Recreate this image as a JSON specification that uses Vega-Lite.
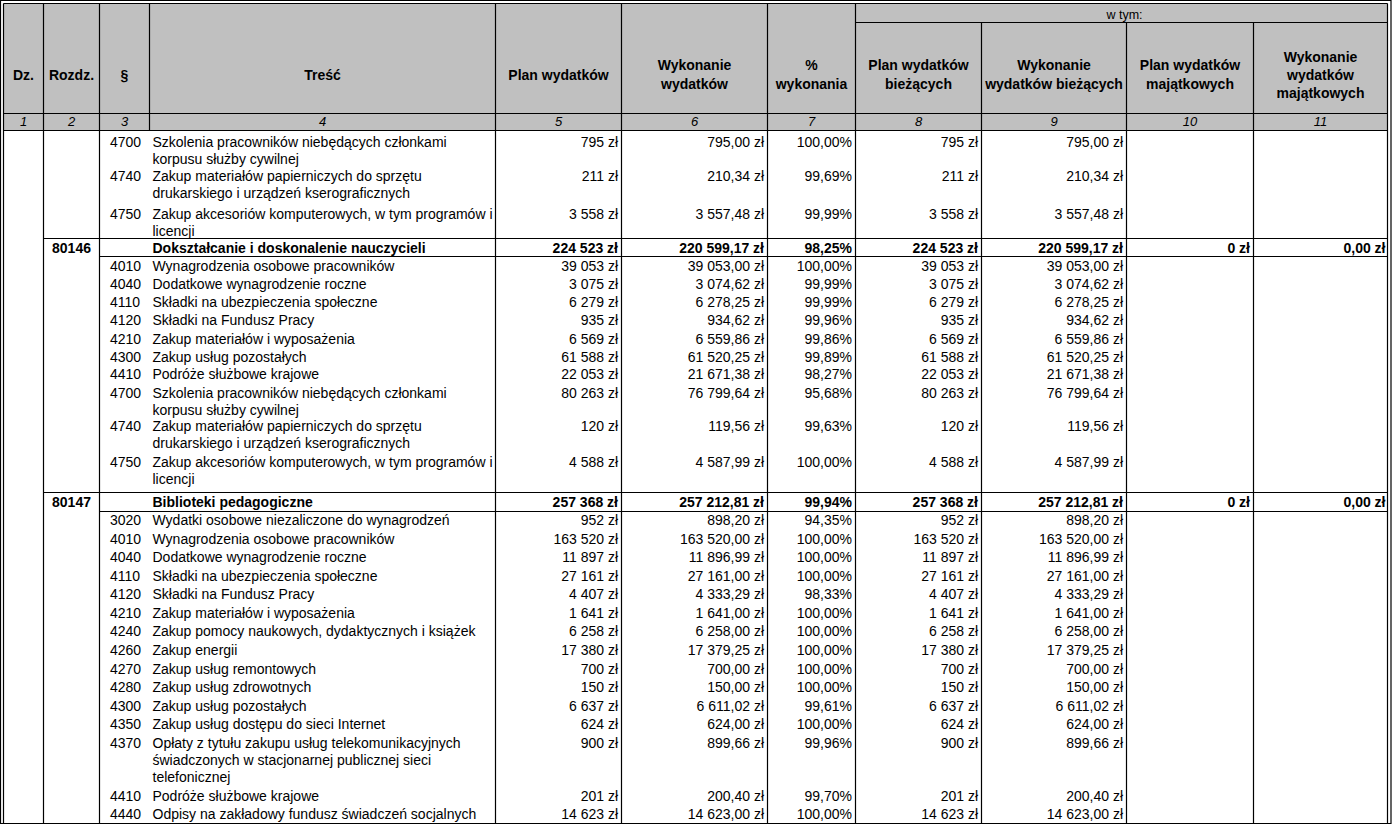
{
  "$schema": "https://vega.github.io/schema/vega-lite/v6.json",
  "width": 1393,
  "height": 826,
  "autosize": {"type": "none"},
  "padding": 0,
  "background": "white",
  "config": {
    "view": {"stroke": null},
    "axis": {"disable": true},
    "text": {"font": "Liberation Sans", "fontSize": 14, "color": "black"}
  },
  "datasets": {
    "frame": [{"part": "table", "label": "w tym:"}],
    "header": [
      {"num": 1, "title": "Dz."},
      {"num": 2, "title": "Rozdz."},
      {"num": 3, "title": "§"},
      {"num": 4, "title": "Treść"},
      {"num": 5, "title": "Plan wydatków"},
      {"num": 6, "title": "Wykonanie\nwydatków"},
      {"num": 7, "title": "%\nwykonania"},
      {"num": 8, "title": "Plan wydatków\nbieżących"},
      {"num": 9, "title": "Wykonanie\nwydatków bieżących"},
      {"num": 10, "title": "Plan wydatków\nmajątkowych"},
      {"num": 11, "title": "Wykonanie\nwydatków\nmajątkowych"}
    ],
    "hlines": [
      {"edge": 0, "from": 0.5, "to": 11.5},
      {"edge": 1, "from": 7.5, "to": 11.5},
      {"edge": 2, "from": 0.5, "to": 11.5},
      {"edge": 3, "from": 0.5, "to": 11.5},
      {"edge": 4, "from": 1.5, "to": 11.5},
      {"edge": 5, "from": 2.5, "to": 11.5},
      {"edge": 6, "from": 1.5, "to": 11.5},
      {"edge": 7, "from": 2.5, "to": 11.5}
    ],
    "vlines": [
      {"at": 0.5, "from": 0, "to": 8},
      {"at": 1.5, "from": 0, "to": 8},
      {"at": 2.5, "from": 0, "to": 8},
      {"at": 3.5, "from": 0, "to": 3},
      {"at": 4.5, "from": 0, "to": 8},
      {"at": 5.5, "from": 0, "to": 8},
      {"at": 6.5, "from": 0, "to": 8},
      {"at": 7.5, "from": 0, "to": 8},
      {"at": 8.5, "from": 1, "to": 8},
      {"at": 9.5, "from": 1, "to": 8},
      {"at": 10.5, "from": 1, "to": 8},
      {"at": 11.5, "from": 0, "to": 8}
    ],
    "sections": [
      {"row": 4, "rozdz": "80146", "tresc": "Dokształcanie i doskonalenie nauczycieli", "plan": "224 523 zł", "wyk": "220 599,17 zł", "pct": "98,25%", "planB": "224 523 zł", "wykB": "220 599,17 zł", "planM": "0 zł", "wykM": "0,00 zł"},
      {"row": 15, "rozdz": "80147", "tresc": "Biblioteki pedagogiczne", "plan": "257 368 zł", "wyk": "257 212,81 zł", "pct": "99,94%", "planB": "257 368 zł", "wykB": "257 212,81 zł", "planM": "0 zł", "wykM": "0,00 zł"}
    ],
    "items": [
      {"row": 1, "par": "4700", "tresc": "Szkolenia pracowników niebędących członkami\nkorpusu służby cywilnej", "plan": "795 zł", "wyk": "795,00 zł", "pct": "100,00%", "planB": "795 zł", "wykB": "795,00 zł"},
      {"row": 2, "par": "4740", "tresc": "Zakup materiałów papierniczych do sprzętu\ndrukarskiego i urządzeń kserograficznych", "plan": "211 zł", "wyk": "210,34 zł", "pct": "99,69%", "planB": "211 zł", "wykB": "210,34 zł"},
      {"row": 3, "par": "4750", "tresc": "Zakup akcesoriów komputerowych, w tym programów i\nlicencji", "plan": "3 558 zł", "wyk": "3 557,48 zł", "pct": "99,99%", "planB": "3 558 zł", "wykB": "3 557,48 zł"},
      {"row": 5, "par": "4010", "tresc": "Wynagrodzenia osobowe pracowników", "plan": "39 053 zł", "wyk": "39 053,00 zł", "pct": "100,00%", "planB": "39 053 zł", "wykB": "39 053,00 zł"},
      {"row": 6, "par": "4040", "tresc": "Dodatkowe wynagrodzenie roczne", "plan": "3 075 zł", "wyk": "3 074,62 zł", "pct": "99,99%", "planB": "3 075 zł", "wykB": "3 074,62 zł"},
      {"row": 7, "par": "4110", "tresc": "Składki na ubezpieczenia społeczne", "plan": "6 279 zł", "wyk": "6 278,25 zł", "pct": "99,99%", "planB": "6 279 zł", "wykB": "6 278,25 zł"},
      {"row": 8, "par": "4120", "tresc": "Składki na Fundusz Pracy", "plan": "935 zł", "wyk": "934,62 zł", "pct": "99,96%", "planB": "935 zł", "wykB": "934,62 zł"},
      {"row": 9, "par": "4210", "tresc": "Zakup materiałów i wyposażenia", "plan": "6 569 zł", "wyk": "6 559,86 zł", "pct": "99,86%", "planB": "6 569 zł", "wykB": "6 559,86 zł"},
      {"row": 10, "par": "4300", "tresc": "Zakup usług pozostałych", "plan": "61 588 zł", "wyk": "61 520,25 zł", "pct": "99,89%", "planB": "61 588 zł", "wykB": "61 520,25 zł"},
      {"row": 11, "par": "4410", "tresc": "Podróże służbowe krajowe", "plan": "22 053 zł", "wyk": "21 671,38 zł", "pct": "98,27%", "planB": "22 053 zł", "wykB": "21 671,38 zł"},
      {"row": 12, "par": "4700", "tresc": "Szkolenia pracowników niebędących członkami\nkorpusu służby cywilnej", "plan": "80 263 zł", "wyk": "76 799,64 zł", "pct": "95,68%", "planB": "80 263 zł", "wykB": "76 799,64 zł"},
      {"row": 13, "par": "4740", "tresc": "Zakup materiałów papierniczych do sprzętu\ndrukarskiego i urządzeń kserograficznych", "plan": "120 zł", "wyk": "119,56 zł", "pct": "99,63%", "planB": "120 zł", "wykB": "119,56 zł"},
      {"row": 14, "par": "4750", "tresc": "Zakup akcesoriów komputerowych, w tym programów i\nlicencji", "plan": "4 588 zł", "wyk": "4 587,99 zł", "pct": "100,00%", "planB": "4 588 zł", "wykB": "4 587,99 zł"},
      {"row": 16, "par": "3020", "tresc": "Wydatki osobowe niezaliczone do wynagrodzeń", "plan": "952 zł", "wyk": "898,20 zł", "pct": "94,35%", "planB": "952 zł", "wykB": "898,20 zł"},
      {"row": 17, "par": "4010", "tresc": "Wynagrodzenia osobowe pracowników", "plan": "163 520 zł", "wyk": "163 520,00 zł", "pct": "100,00%", "planB": "163 520 zł", "wykB": "163 520,00 zł"},
      {"row": 18, "par": "4040", "tresc": "Dodatkowe wynagrodzenie roczne", "plan": "11 897 zł", "wyk": "11 896,99 zł", "pct": "100,00%", "planB": "11 897 zł", "wykB": "11 896,99 zł"},
      {"row": 19, "par": "4110", "tresc": "Składki na ubezpieczenia społeczne", "plan": "27 161 zł", "wyk": "27 161,00 zł", "pct": "100,00%", "planB": "27 161 zł", "wykB": "27 161,00 zł"},
      {"row": 20, "par": "4120", "tresc": "Składki na Fundusz Pracy", "plan": "4 407 zł", "wyk": "4 333,29 zł", "pct": "98,33%", "planB": "4 407 zł", "wykB": "4 333,29 zł"},
      {"row": 21, "par": "4210", "tresc": "Zakup materiałów i wyposażenia", "plan": "1 641 zł", "wyk": "1 641,00 zł", "pct": "100,00%", "planB": "1 641 zł", "wykB": "1 641,00 zł"},
      {"row": 22, "par": "4240", "tresc": "Zakup pomocy naukowych, dydaktycznych i książek", "plan": "6 258 zł", "wyk": "6 258,00 zł", "pct": "100,00%", "planB": "6 258 zł", "wykB": "6 258,00 zł"},
      {"row": 23, "par": "4260", "tresc": "Zakup energii", "plan": "17 380 zł", "wyk": "17 379,25 zł", "pct": "100,00%", "planB": "17 380 zł", "wykB": "17 379,25 zł"},
      {"row": 24, "par": "4270", "tresc": "Zakup usług remontowych", "plan": "700 zł", "wyk": "700,00 zł", "pct": "100,00%", "planB": "700 zł", "wykB": "700,00 zł"},
      {"row": 25, "par": "4280", "tresc": "Zakup usług zdrowotnych", "plan": "150 zł", "wyk": "150,00 zł", "pct": "100,00%", "planB": "150 zł", "wykB": "150,00 zł"},
      {"row": 26, "par": "4300", "tresc": "Zakup usług pozostałych", "plan": "6 637 zł", "wyk": "6 611,02 zł", "pct": "99,61%", "planB": "6 637 zł", "wykB": "6 611,02 zł"},
      {"row": 27, "par": "4350", "tresc": "Zakup usług dostępu do sieci Internet", "plan": "624 zł", "wyk": "624,00 zł", "pct": "100,00%", "planB": "624 zł", "wykB": "624,00 zł"},
      {"row": 28, "par": "4370", "tresc": "Opłaty z tytułu zakupu usług telekomunikacyjnych\nświadczonych w stacjonarnej publicznej sieci\ntelefonicznej", "plan": "900 zł", "wyk": "899,66 zł", "pct": "99,96%", "planB": "900 zł", "wykB": "899,66 zł"},
      {"row": 29, "par": "4410", "tresc": "Podróże służbowe krajowe", "plan": "201 zł", "wyk": "200,40 zł", "pct": "99,70%", "planB": "201 zł", "wykB": "200,40 zł"},
      {"row": 30, "par": "4440", "tresc": "Odpisy na zakładowy fundusz świadczeń socjalnych", "plan": "14 623 zł", "wyk": "14 623,00 zł", "pct": "100,00%", "planB": "14 623 zł", "wykB": "14 623,00 zł"}
    ]
  },
  "resolve": {"scale": {"y": "independent"}},
  "layer": [
    {
      "layer": [
        {
          "data": {"name": "frame"},
          "mark": {"type": "rect", "color": "#c0c0c0"},
          "encoding": {
            "x": {"datum": 0.5, "type": "quantitative", "scale": {"domain": [0.5,1.5,2.5,3.5,4.5,5.5,6.5,7.5,8.5,9.5,10.5,11.5], "range": [3.5,43.5,99.5,149.5,495.5,621.5,767.5,855.5,981.5,1126.5,1253.5,1387.5], "zero": false, "nice": false}},
            "x2": {"datum": 11.5},
            "y": {"datum": 0, "type": "quantitative", "scale": {"domain": [0,1,2,3,4,5,6,7,8], "range": [3.5,22.5,113.5,130.5,238.5,256.5,492.5,511.5,823.5], "zero": false, "nice": false}},
            "y2": {"datum": 3}
          }
        },
        {
          "data": {"name": "hlines"},
          "mark": {"type": "rule", "color": "black", "strokeWidth": 1.2},
          "encoding": {
            "x": {"field": "from", "type": "quantitative", "scale": {"domain": [0.5,1.5,2.5,3.5,4.5,5.5,6.5,7.5,8.5,9.5,10.5,11.5], "range": [3.5,43.5,99.5,149.5,495.5,621.5,767.5,855.5,981.5,1126.5,1253.5,1387.5], "zero": false, "nice": false}},
            "x2": {"field": "to"},
            "y": {"field": "edge", "type": "quantitative", "scale": {"domain": [0,1,2,3,4,5,6,7,8], "range": [3.5,22.5,113.5,130.5,238.5,256.5,492.5,511.5,823.5], "zero": false, "nice": false}}
          }
        },
        {
          "data": {"name": "vlines"},
          "mark": {"type": "rule", "color": "black", "strokeWidth": 1.2},
          "encoding": {
            "x": {"field": "at", "type": "quantitative", "scale": {"domain": [0.5,1.5,2.5,3.5,4.5,5.5,6.5,7.5,8.5,9.5,10.5,11.5], "range": [3.5,43.5,99.5,149.5,495.5,621.5,767.5,855.5,981.5,1126.5,1253.5,1387.5], "zero": false, "nice": false}},
            "y": {"field": "from", "type": "quantitative", "scale": {"domain": [0,1,2,3,4,5,6,7,8], "range": [3.5,22.5,113.5,130.5,238.5,256.5,492.5,511.5,823.5], "zero": false, "nice": false}},
            "y2": {"field": "to"}
          }
        },
        {
          "data": {"name": "frame"},
          "mark": {"type": "rect", "filled": false, "stroke": "black", "strokeWidth": 1.2, "xOffset": -3, "x2Offset": 3.5, "yOffset": -3, "y2Offset": 0},
          "encoding": {
            "x": {"datum": 0.5, "type": "quantitative", "scale": {"domain": [0.5,1.5,2.5,3.5,4.5,5.5,6.5,7.5,8.5,9.5,10.5,11.5], "range": [3.5,43.5,99.5,149.5,495.5,621.5,767.5,855.5,981.5,1126.5,1253.5,1387.5], "zero": false, "nice": false}},
            "x2": {"datum": 11.5},
            "y": {"datum": 0, "type": "quantitative", "scale": {"domain": [0,1,2,3,4,5,6,7,8], "range": [3.5,22.5,113.5,130.5,238.5,256.5,492.5,511.5,823.5], "zero": false, "nice": false}},
            "y2": {"datum": 8}
          }
        }
      ]
    },
    {
      "layer": [
        {
          "data": {"name": "frame"},
          "mark": {"type": "text", "fontSize": 12.5, "align": "center", "baseline": "middle", "dx": -2},
          "encoding": {
            "x": {"datum": 9.5, "type": "quantitative", "scale": {"domain": [0.5,1.5,2.5,3.5,4.5,5.5,6.5,7.5,8.5,9.5,10.5,11.5], "range": [3.5,43.5,99.5,149.5,495.5,621.5,767.5,855.5,981.5,1126.5,1253.5,1387.5], "zero": false, "nice": false}},
            "y": {"datum": -2, "type": "quantitative", "scale": {"domain": [-2,-1,0,1,2,3,4,5,6,7,8,9,10,11,12,13,14,15,16,17,18,19,20,21,22,23,24,25,26,27,28,29,30], "range": [15,75.5,121.5,141.7,176,214,248.3,265.7,284,302.3,320,339.3,356.7,374.3,393.3,426,462.3,502,520,539,557,576,594.3,613.3,631.3,650.3,669,687,706,724,743.3,796,814], "zero": false, "nice": false}},
            "text": {"field": "label"}
          }
        },
        {
          "data": {"name": "header"},
          "transform": [{"filter": "indexof(datum.title, '\\n') < 0"}],
          "mark": {"type": "text", "fontWeight": "bold", "align": "center", "baseline": "middle"},
          "encoding": {
            "x": {"field": "num", "type": "quantitative", "scale": {"domain": [0.5,1.5,2.5,3.5,4.5,5.5,6.5,7.5,8.5,9.5,10.5,11.5], "range": [3.5,43.5,99.5,149.5,495.5,621.5,767.5,855.5,981.5,1126.5,1253.5,1387.5], "zero": false, "nice": false}},
            "y": {"datum": -1, "type": "quantitative", "scale": {"domain": [-2,-1,0,1,2,3,4,5,6,7,8,9,10,11,12,13,14,15,16,17,18,19,20,21,22,23,24,25,26,27,28,29,30], "range": [15,75.5,121.5,141.7,176,214,248.3,265.7,284,302.3,320,339.3,356.7,374.3,393.3,426,462.3,502,520,539,557,576,594.3,613.3,631.3,650.3,669,687,706,724,743.3,796,814], "zero": false, "nice": false}},
            "text": {"field": "title"}
          }
        },
        {
          "data": {"name": "header"},
          "transform": [{"filter": "length(split(datum.title, '\\n')) == 2"}],
          "mark": {"type": "text", "fontWeight": "bold", "align": "center", "baseline": "middle", "lineBreak": "\n", "lineHeight": 18.3, "dy": -9.15},
          "encoding": {
            "x": {"field": "num", "type": "quantitative", "scale": {"domain": [0.5,1.5,2.5,3.5,4.5,5.5,6.5,7.5,8.5,9.5,10.5,11.5], "range": [3.5,43.5,99.5,149.5,495.5,621.5,767.5,855.5,981.5,1126.5,1253.5,1387.5], "zero": false, "nice": false}},
            "y": {"datum": -1, "type": "quantitative", "scale": {"domain": [-2,-1,0,1,2,3,4,5,6,7,8,9,10,11,12,13,14,15,16,17,18,19,20,21,22,23,24,25,26,27,28,29,30], "range": [15,75.5,121.5,141.7,176,214,248.3,265.7,284,302.3,320,339.3,356.7,374.3,393.3,426,462.3,502,520,539,557,576,594.3,613.3,631.3,650.3,669,687,706,724,743.3,796,814], "zero": false, "nice": false}},
            "text": {"field": "title"}
          }
        },
        {
          "data": {"name": "header"},
          "transform": [{"filter": "length(split(datum.title, '\\n')) == 3"}],
          "mark": {"type": "text", "fontWeight": "bold", "align": "center", "baseline": "middle", "lineBreak": "\n", "lineHeight": 18, "dy": -18},
          "encoding": {
            "x": {"field": "num", "type": "quantitative", "scale": {"domain": [0.5,1.5,2.5,3.5,4.5,5.5,6.5,7.5,8.5,9.5,10.5,11.5], "range": [3.5,43.5,99.5,149.5,495.5,621.5,767.5,855.5,981.5,1126.5,1253.5,1387.5], "zero": false, "nice": false}},
            "y": {"datum": -1, "type": "quantitative", "scale": {"domain": [-2,-1,0,1,2,3,4,5,6,7,8,9,10,11,12,13,14,15,16,17,18,19,20,21,22,23,24,25,26,27,28,29,30], "range": [15,75.5,121.5,141.7,176,214,248.3,265.7,284,302.3,320,339.3,356.7,374.3,393.3,426,462.3,502,520,539,557,576,594.3,613.3,631.3,650.3,669,687,706,724,743.3,796,814], "zero": false, "nice": false}},
            "text": {"field": "title"}
          }
        },
        {
          "data": {"name": "header"},
          "mark": {"type": "text", "fontStyle": "italic", "fontSize": 13, "align": "center", "baseline": "middle"},
          "encoding": {
            "x": {"field": "num", "type": "quantitative", "scale": {"domain": [0.5,1.5,2.5,3.5,4.5,5.5,6.5,7.5,8.5,9.5,10.5,11.5], "range": [3.5,43.5,99.5,149.5,495.5,621.5,767.5,855.5,981.5,1126.5,1253.5,1387.5], "zero": false, "nice": false}},
            "y": {"datum": 0, "type": "quantitative", "scale": {"domain": [-2,-1,0,1,2,3,4,5,6,7,8,9,10,11,12,13,14,15,16,17,18,19,20,21,22,23,24,25,26,27,28,29,30], "range": [15,75.5,121.5,141.7,176,214,248.3,265.7,284,302.3,320,339.3,356.7,374.3,393.3,426,462.3,502,520,539,557,576,594.3,613.3,631.3,650.3,669,687,706,724,743.3,796,814], "zero": false, "nice": false}},
            "text": {"field": "num", "type": "nominal"}
          }
        },
        {
          "data": {"name": "sections"},
          "mark": {"type": "text", "fontWeight": "bold", "align": "center", "baseline": "alphabetic", "dy": 5},
          "encoding": {
            "x": {"datum": 2, "type": "quantitative", "scale": {"domain": [0.5,1.5,2.5,3.5,4.5,5.5,6.5,7.5,8.5,9.5,10.5,11.5], "range": [3.5,43.5,99.5,149.5,495.5,621.5,767.5,855.5,981.5,1126.5,1253.5,1387.5], "zero": false, "nice": false}},
            "y": {"field": "row", "type": "quantitative", "scale": {"domain": [-2,-1,0,1,2,3,4,5,6,7,8,9,10,11,12,13,14,15,16,17,18,19,20,21,22,23,24,25,26,27,28,29,30], "range": [15,75.5,121.5,141.7,176,214,248.3,265.7,284,302.3,320,339.3,356.7,374.3,393.3,426,462.3,502,520,539,557,576,594.3,613.3,631.3,650.3,669,687,706,724,743.3,796,814], "zero": false, "nice": false}},
            "text": {"field": "rozdz"}
          }
        },
        {
          "data": {"name": "sections"},
          "mark": {"type": "text", "fontWeight": "bold", "align": "left", "baseline": "alphabetic", "dx": 3, "dy": 5},
          "encoding": {
            "x": {"datum": 3.5, "type": "quantitative", "scale": {"domain": [0.5,1.5,2.5,3.5,4.5,5.5,6.5,7.5,8.5,9.5,10.5,11.5], "range": [3.5,43.5,99.5,149.5,495.5,621.5,767.5,855.5,981.5,1126.5,1253.5,1387.5], "zero": false, "nice": false}},
            "y": {"field": "row", "type": "quantitative", "scale": {"domain": [-2,-1,0,1,2,3,4,5,6,7,8,9,10,11,12,13,14,15,16,17,18,19,20,21,22,23,24,25,26,27,28,29,30], "range": [15,75.5,121.5,141.7,176,214,248.3,265.7,284,302.3,320,339.3,356.7,374.3,393.3,426,462.3,502,520,539,557,576,594.3,613.3,631.3,650.3,669,687,706,724,743.3,796,814], "zero": false, "nice": false}},
            "text": {"field": "tresc"}
          }
        },
        {
          "data": {"name": "sections"},
          "mark": {"type": "text", "fontWeight": "bold", "align": "right", "baseline": "alphabetic", "dx": -3.5, "dy": 5},
          "encoding": {
            "x": {"datum": 5.5, "type": "quantitative", "scale": {"domain": [0.5,1.5,2.5,3.5,4.5,5.5,6.5,7.5,8.5,9.5,10.5,11.5], "range": [3.5,43.5,99.5,149.5,495.5,621.5,767.5,855.5,981.5,1126.5,1253.5,1387.5], "zero": false, "nice": false}},
            "y": {"field": "row", "type": "quantitative", "scale": {"domain": [-2,-1,0,1,2,3,4,5,6,7,8,9,10,11,12,13,14,15,16,17,18,19,20,21,22,23,24,25,26,27,28,29,30], "range": [15,75.5,121.5,141.7,176,214,248.3,265.7,284,302.3,320,339.3,356.7,374.3,393.3,426,462.3,502,520,539,557,576,594.3,613.3,631.3,650.3,669,687,706,724,743.3,796,814], "zero": false, "nice": false}},
            "text": {"field": "plan"}
          }
        },
        {
          "data": {"name": "sections"},
          "mark": {"type": "text", "fontWeight": "bold", "align": "right", "baseline": "alphabetic", "dx": -3.5, "dy": 5},
          "encoding": {
            "x": {"datum": 6.5, "type": "quantitative", "scale": {"domain": [0.5,1.5,2.5,3.5,4.5,5.5,6.5,7.5,8.5,9.5,10.5,11.5], "range": [3.5,43.5,99.5,149.5,495.5,621.5,767.5,855.5,981.5,1126.5,1253.5,1387.5], "zero": false, "nice": false}},
            "y": {"field": "row", "type": "quantitative", "scale": {"domain": [-2,-1,0,1,2,3,4,5,6,7,8,9,10,11,12,13,14,15,16,17,18,19,20,21,22,23,24,25,26,27,28,29,30], "range": [15,75.5,121.5,141.7,176,214,248.3,265.7,284,302.3,320,339.3,356.7,374.3,393.3,426,462.3,502,520,539,557,576,594.3,613.3,631.3,650.3,669,687,706,724,743.3,796,814], "zero": false, "nice": false}},
            "text": {"field": "wyk"}
          }
        },
        {
          "data": {"name": "sections"},
          "mark": {"type": "text", "fontWeight": "bold", "align": "right", "baseline": "alphabetic", "dx": -3.5, "dy": 5},
          "encoding": {
            "x": {"datum": 7.5, "type": "quantitative", "scale": {"domain": [0.5,1.5,2.5,3.5,4.5,5.5,6.5,7.5,8.5,9.5,10.5,11.5], "range": [3.5,43.5,99.5,149.5,495.5,621.5,767.5,855.5,981.5,1126.5,1253.5,1387.5], "zero": false, "nice": false}},
            "y": {"field": "row", "type": "quantitative", "scale": {"domain": [-2,-1,0,1,2,3,4,5,6,7,8,9,10,11,12,13,14,15,16,17,18,19,20,21,22,23,24,25,26,27,28,29,30], "range": [15,75.5,121.5,141.7,176,214,248.3,265.7,284,302.3,320,339.3,356.7,374.3,393.3,426,462.3,502,520,539,557,576,594.3,613.3,631.3,650.3,669,687,706,724,743.3,796,814], "zero": false, "nice": false}},
            "text": {"field": "pct"}
          }
        },
        {
          "data": {"name": "sections"},
          "mark": {"type": "text", "fontWeight": "bold", "align": "right", "baseline": "alphabetic", "dx": -3.5, "dy": 5},
          "encoding": {
            "x": {"datum": 8.5, "type": "quantitative", "scale": {"domain": [0.5,1.5,2.5,3.5,4.5,5.5,6.5,7.5,8.5,9.5,10.5,11.5], "range": [3.5,43.5,99.5,149.5,495.5,621.5,767.5,855.5,981.5,1126.5,1253.5,1387.5], "zero": false, "nice": false}},
            "y": {"field": "row", "type": "quantitative", "scale": {"domain": [-2,-1,0,1,2,3,4,5,6,7,8,9,10,11,12,13,14,15,16,17,18,19,20,21,22,23,24,25,26,27,28,29,30], "range": [15,75.5,121.5,141.7,176,214,248.3,265.7,284,302.3,320,339.3,356.7,374.3,393.3,426,462.3,502,520,539,557,576,594.3,613.3,631.3,650.3,669,687,706,724,743.3,796,814], "zero": false, "nice": false}},
            "text": {"field": "planB"}
          }
        },
        {
          "data": {"name": "sections"},
          "mark": {"type": "text", "fontWeight": "bold", "align": "right", "baseline": "alphabetic", "dx": -3.5, "dy": 5},
          "encoding": {
            "x": {"datum": 9.5, "type": "quantitative", "scale": {"domain": [0.5,1.5,2.5,3.5,4.5,5.5,6.5,7.5,8.5,9.5,10.5,11.5], "range": [3.5,43.5,99.5,149.5,495.5,621.5,767.5,855.5,981.5,1126.5,1253.5,1387.5], "zero": false, "nice": false}},
            "y": {"field": "row", "type": "quantitative", "scale": {"domain": [-2,-1,0,1,2,3,4,5,6,7,8,9,10,11,12,13,14,15,16,17,18,19,20,21,22,23,24,25,26,27,28,29,30], "range": [15,75.5,121.5,141.7,176,214,248.3,265.7,284,302.3,320,339.3,356.7,374.3,393.3,426,462.3,502,520,539,557,576,594.3,613.3,631.3,650.3,669,687,706,724,743.3,796,814], "zero": false, "nice": false}},
            "text": {"field": "wykB"}
          }
        },
        {
          "data": {"name": "sections"},
          "mark": {"type": "text", "fontWeight": "bold", "align": "right", "baseline": "alphabetic", "dx": -3.5, "dy": 5},
          "encoding": {
            "x": {"datum": 10.5, "type": "quantitative", "scale": {"domain": [0.5,1.5,2.5,3.5,4.5,5.5,6.5,7.5,8.5,9.5,10.5,11.5], "range": [3.5,43.5,99.5,149.5,495.5,621.5,767.5,855.5,981.5,1126.5,1253.5,1387.5], "zero": false, "nice": false}},
            "y": {"field": "row", "type": "quantitative", "scale": {"domain": [-2,-1,0,1,2,3,4,5,6,7,8,9,10,11,12,13,14,15,16,17,18,19,20,21,22,23,24,25,26,27,28,29,30], "range": [15,75.5,121.5,141.7,176,214,248.3,265.7,284,302.3,320,339.3,356.7,374.3,393.3,426,462.3,502,520,539,557,576,594.3,613.3,631.3,650.3,669,687,706,724,743.3,796,814], "zero": false, "nice": false}},
            "text": {"field": "planM"}
          }
        },
        {
          "data": {"name": "sections"},
          "mark": {"type": "text", "fontWeight": "bold", "align": "right", "baseline": "alphabetic", "dx": -2, "dy": 5},
          "encoding": {
            "x": {"datum": 11.5, "type": "quantitative", "scale": {"domain": [0.5,1.5,2.5,3.5,4.5,5.5,6.5,7.5,8.5,9.5,10.5,11.5], "range": [3.5,43.5,99.5,149.5,495.5,621.5,767.5,855.5,981.5,1126.5,1253.5,1387.5], "zero": false, "nice": false}},
            "y": {"field": "row", "type": "quantitative", "scale": {"domain": [-2,-1,0,1,2,3,4,5,6,7,8,9,10,11,12,13,14,15,16,17,18,19,20,21,22,23,24,25,26,27,28,29,30], "range": [15,75.5,121.5,141.7,176,214,248.3,265.7,284,302.3,320,339.3,356.7,374.3,393.3,426,462.3,502,520,539,557,576,594.3,613.3,631.3,650.3,669,687,706,724,743.3,796,814], "zero": false, "nice": false}},
            "text": {"field": "wykM"}
          }
        },
        {
          "data": {"name": "items"},
          "mark": {"type": "text", "align": "left", "baseline": "alphabetic", "dx": 10.5, "dy": 5},
          "encoding": {
            "x": {"datum": 2.5, "type": "quantitative", "scale": {"domain": [0.5,1.5,2.5,3.5,4.5,5.5,6.5,7.5,8.5,9.5,10.5,11.5], "range": [3.5,43.5,99.5,149.5,495.5,621.5,767.5,855.5,981.5,1126.5,1253.5,1387.5], "zero": false, "nice": false}},
            "y": {"field": "row", "type": "quantitative", "scale": {"domain": [-2,-1,0,1,2,3,4,5,6,7,8,9,10,11,12,13,14,15,16,17,18,19,20,21,22,23,24,25,26,27,28,29,30], "range": [15,75.5,121.5,141.7,176,214,248.3,265.7,284,302.3,320,339.3,356.7,374.3,393.3,426,462.3,502,520,539,557,576,594.3,613.3,631.3,650.3,669,687,706,724,743.3,796,814], "zero": false, "nice": false}},
            "text": {"field": "par"}
          }
        },
        {
          "data": {"name": "items"},
          "mark": {"type": "text", "align": "left", "baseline": "alphabetic", "dx": 3, "dy": 5, "lineBreak": "\n", "lineHeight": 17},
          "encoding": {
            "x": {"datum": 3.5, "type": "quantitative", "scale": {"domain": [0.5,1.5,2.5,3.5,4.5,5.5,6.5,7.5,8.5,9.5,10.5,11.5], "range": [3.5,43.5,99.5,149.5,495.5,621.5,767.5,855.5,981.5,1126.5,1253.5,1387.5], "zero": false, "nice": false}},
            "y": {"field": "row", "type": "quantitative", "scale": {"domain": [-2,-1,0,1,2,3,4,5,6,7,8,9,10,11,12,13,14,15,16,17,18,19,20,21,22,23,24,25,26,27,28,29,30], "range": [15,75.5,121.5,141.7,176,214,248.3,265.7,284,302.3,320,339.3,356.7,374.3,393.3,426,462.3,502,520,539,557,576,594.3,613.3,631.3,650.3,669,687,706,724,743.3,796,814], "zero": false, "nice": false}},
            "text": {"field": "tresc"}
          }
        },
        {
          "data": {"name": "items"},
          "mark": {"type": "text", "align": "right", "baseline": "alphabetic", "dx": -3.5, "dy": 5},
          "encoding": {
            "x": {"datum": 5.5, "type": "quantitative", "scale": {"domain": [0.5,1.5,2.5,3.5,4.5,5.5,6.5,7.5,8.5,9.5,10.5,11.5], "range": [3.5,43.5,99.5,149.5,495.5,621.5,767.5,855.5,981.5,1126.5,1253.5,1387.5], "zero": false, "nice": false}},
            "y": {"field": "row", "type": "quantitative", "scale": {"domain": [-2,-1,0,1,2,3,4,5,6,7,8,9,10,11,12,13,14,15,16,17,18,19,20,21,22,23,24,25,26,27,28,29,30], "range": [15,75.5,121.5,141.7,176,214,248.3,265.7,284,302.3,320,339.3,356.7,374.3,393.3,426,462.3,502,520,539,557,576,594.3,613.3,631.3,650.3,669,687,706,724,743.3,796,814], "zero": false, "nice": false}},
            "text": {"field": "plan"}
          }
        },
        {
          "data": {"name": "items"},
          "mark": {"type": "text", "align": "right", "baseline": "alphabetic", "dx": -3.5, "dy": 5},
          "encoding": {
            "x": {"datum": 6.5, "type": "quantitative", "scale": {"domain": [0.5,1.5,2.5,3.5,4.5,5.5,6.5,7.5,8.5,9.5,10.5,11.5], "range": [3.5,43.5,99.5,149.5,495.5,621.5,767.5,855.5,981.5,1126.5,1253.5,1387.5], "zero": false, "nice": false}},
            "y": {"field": "row", "type": "quantitative", "scale": {"domain": [-2,-1,0,1,2,3,4,5,6,7,8,9,10,11,12,13,14,15,16,17,18,19,20,21,22,23,24,25,26,27,28,29,30], "range": [15,75.5,121.5,141.7,176,214,248.3,265.7,284,302.3,320,339.3,356.7,374.3,393.3,426,462.3,502,520,539,557,576,594.3,613.3,631.3,650.3,669,687,706,724,743.3,796,814], "zero": false, "nice": false}},
            "text": {"field": "wyk"}
          }
        },
        {
          "data": {"name": "items"},
          "mark": {"type": "text", "align": "right", "baseline": "alphabetic", "dx": -3.5, "dy": 5},
          "encoding": {
            "x": {"datum": 7.5, "type": "quantitative", "scale": {"domain": [0.5,1.5,2.5,3.5,4.5,5.5,6.5,7.5,8.5,9.5,10.5,11.5], "range": [3.5,43.5,99.5,149.5,495.5,621.5,767.5,855.5,981.5,1126.5,1253.5,1387.5], "zero": false, "nice": false}},
            "y": {"field": "row", "type": "quantitative", "scale": {"domain": [-2,-1,0,1,2,3,4,5,6,7,8,9,10,11,12,13,14,15,16,17,18,19,20,21,22,23,24,25,26,27,28,29,30], "range": [15,75.5,121.5,141.7,176,214,248.3,265.7,284,302.3,320,339.3,356.7,374.3,393.3,426,462.3,502,520,539,557,576,594.3,613.3,631.3,650.3,669,687,706,724,743.3,796,814], "zero": false, "nice": false}},
            "text": {"field": "pct"}
          }
        },
        {
          "data": {"name": "items"},
          "mark": {"type": "text", "align": "right", "baseline": "alphabetic", "dx": -3.5, "dy": 5},
          "encoding": {
            "x": {"datum": 8.5, "type": "quantitative", "scale": {"domain": [0.5,1.5,2.5,3.5,4.5,5.5,6.5,7.5,8.5,9.5,10.5,11.5], "range": [3.5,43.5,99.5,149.5,495.5,621.5,767.5,855.5,981.5,1126.5,1253.5,1387.5], "zero": false, "nice": false}},
            "y": {"field": "row", "type": "quantitative", "scale": {"domain": [-2,-1,0,1,2,3,4,5,6,7,8,9,10,11,12,13,14,15,16,17,18,19,20,21,22,23,24,25,26,27,28,29,30], "range": [15,75.5,121.5,141.7,176,214,248.3,265.7,284,302.3,320,339.3,356.7,374.3,393.3,426,462.3,502,520,539,557,576,594.3,613.3,631.3,650.3,669,687,706,724,743.3,796,814], "zero": false, "nice": false}},
            "text": {"field": "planB"}
          }
        },
        {
          "data": {"name": "items"},
          "mark": {"type": "text", "align": "right", "baseline": "alphabetic", "dx": -3.5, "dy": 5},
          "encoding": {
            "x": {"datum": 9.5, "type": "quantitative", "scale": {"domain": [0.5,1.5,2.5,3.5,4.5,5.5,6.5,7.5,8.5,9.5,10.5,11.5], "range": [3.5,43.5,99.5,149.5,495.5,621.5,767.5,855.5,981.5,1126.5,1253.5,1387.5], "zero": false, "nice": false}},
            "y": {"field": "row", "type": "quantitative", "scale": {"domain": [-2,-1,0,1,2,3,4,5,6,7,8,9,10,11,12,13,14,15,16,17,18,19,20,21,22,23,24,25,26,27,28,29,30], "range": [15,75.5,121.5,141.7,176,214,248.3,265.7,284,302.3,320,339.3,356.7,374.3,393.3,426,462.3,502,520,539,557,576,594.3,613.3,631.3,650.3,669,687,706,724,743.3,796,814], "zero": false, "nice": false}},
            "text": {"field": "wykB"}
          }
        }
      ]
    }
  ]
}
